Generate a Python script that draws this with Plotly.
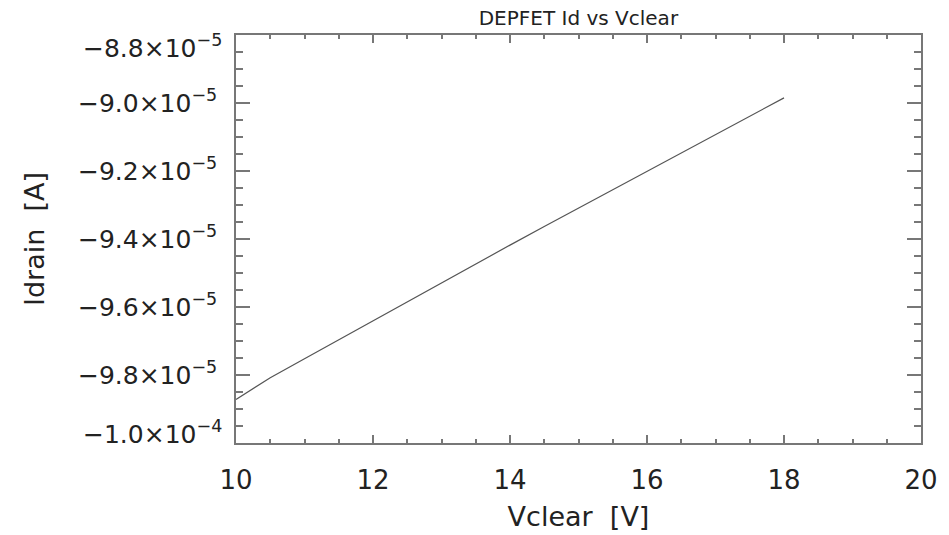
import plotly.graph_objects as go

# Data
vclear = [10.0, 10.5, 11.0, 11.5, 12.0, 12.5, 13.0, 13.5, 14.0, 14.5,
          15.0, 15.5, 16.0, 16.5, 17.0, 17.5, 18.0]
idrain_e5 = [-9.872, -9.808, -9.752, -9.696, -9.640, -9.584, -9.528, -9.473,
             -9.418, -9.363, -9.309, -9.255, -9.201, -9.147, -9.093, -9.039,
             -8.985]
idrain = [v * 1e-5 for v in idrain_e5]

y_tickvals = [-1.0e-4, -9.8e-5, -9.6e-5, -9.4e-5, -9.2e-5, -9.0e-5, -8.8e-5]
y_ticktext = ["−1.0×10<sup>−4</sup>", "−9.8×10<sup>−5</sup>", "−9.6×10<sup>−5</sup>",
              "−9.4×10<sup>−5</sup>", "−9.2×10<sup>−5</sup>", "−9.0×10<sup>−5</sup>",
              "−8.8×10<sup>−5</sup>"]
x_tickvals = [10, 12, 14, 16, 18, 20]

FONT = "DejaVu Sans"
TXT = "#222222"
AX = "#777777"
YFS = 25

fig = go.Figure()
fig.add_trace(go.Scatter(x=vclear, y=idrain, mode="lines",
                         line=dict(color="#555555", width=1.2),
                         showlegend=False, hoverinfo="skip"))

# inner labels on ticks; end labels shifted inward as in the reference
inner_text = [""] + y_ticktext[1:-1] + [""]

fig.update_layout(
    width=949, height=535,
    margin=dict(l=236, r=28, t=35, b=92),
    paper_bgcolor="white", plot_bgcolor="white",
    title=dict(text="DEPFET Id vs Vclear", x=0.6095, xanchor="center",
               y=0.966, yanchor="middle",
               font=dict(family=FONT, size=20, color=TXT)),
    xaxis=dict(
        range=[10, 20], tickvals=x_tickvals, ticktext=[str(v) for v in x_tickvals],
        ticks="inside", ticklen=8, tickwidth=1.5, tickcolor=AX,
        showline=True, linecolor=AX, linewidth=1.5, mirror="ticks",
        showgrid=False, zeroline=False, automargin=False,
        tickfont=dict(family=FONT, size=26, color=TXT),
        ticklabelstandoff=13,
        minor=dict(dtick=0.5, tick0=10, ticks="inside", ticklen=4,
                   tickwidth=1.5, tickcolor=AX, showgrid=False),
        title=dict(text="Vclear  [V]", standoff=13,
                   font=dict(family=FONT, size=27, color=TXT)),
    ),
    yaxis=dict(
        range=[-1.0e-4, -8.8e-5], tickvals=y_tickvals, ticktext=inner_text,
        ticks="inside", ticklen=14, tickwidth=1.5, tickcolor=AX,
        showline=True, linecolor=AX, linewidth=1.5, mirror="ticks",
        showgrid=False, zeroline=False, automargin=False,
        tickfont=dict(family=FONT, size=YFS, color=TXT),
        ticklabelstandoff=12,
        minor=dict(dtick=0.05e-5, tick0=-1.0e-4, ticks="inside", ticklen=7,
                   tickwidth=1.5, tickcolor=AX, showgrid=False),
        title=dict(text="Idrain  [A]", standoff=26,
                   font=dict(family=FONT, size=27, color=TXT)),
    ),
)

# end labels of the y axis (drawn shifted towards the plot interior)
fig.add_annotation(x=0, xref="paper", y=y_tickvals[-1], yref="y",
                   text=y_ticktext[-1], showarrow=False, xanchor="right",
                   xshift=-12, yshift=-11,
                   font=dict(family=FONT, size=YFS, color=TXT))
fig.add_annotation(x=0, xref="paper", y=y_tickvals[0], yref="y",
                   text=y_ticktext[0], showarrow=False, xanchor="right",
                   xshift=-12, yshift=11,
                   font=dict(family=FONT, size=YFS, color=TXT))

fig.write_html("out.html")
